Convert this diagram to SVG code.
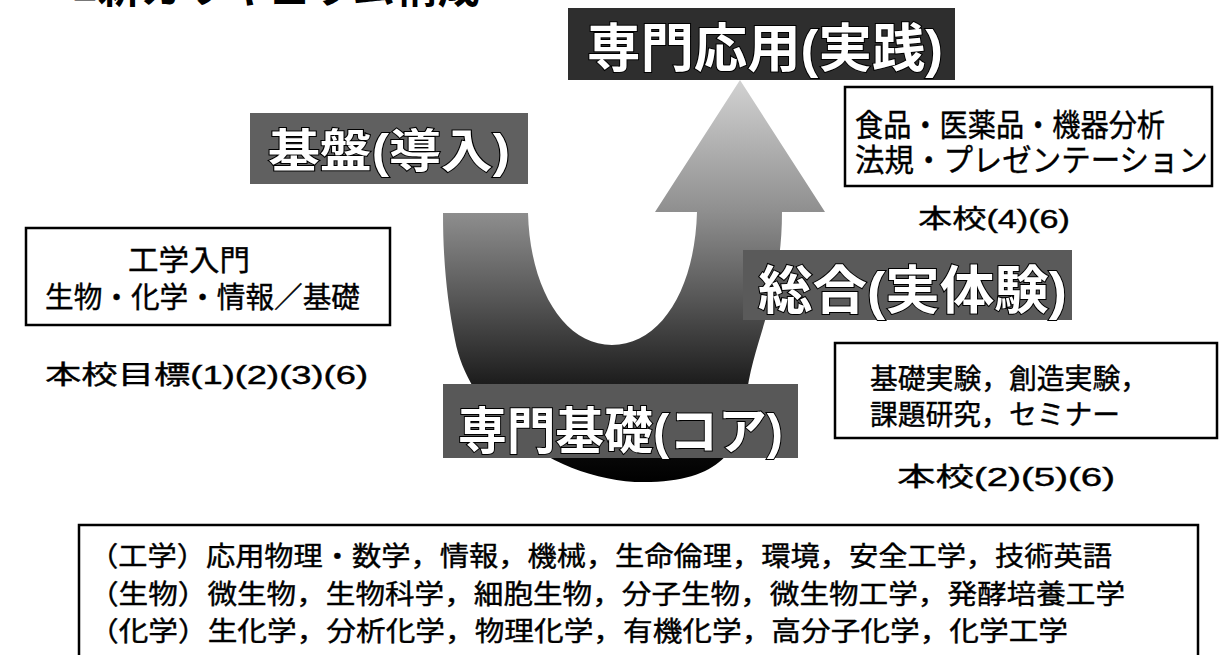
<svg xmlns="http://www.w3.org/2000/svg" width="1231" height="655" viewBox="0 0 1231 655">
<style>
.lbl{font-family:"Liberation Sans","Noto Sans CJK JP",sans-serif;font-weight:bold;fill:#fff;stroke:#000;stroke-width:2;paint-order:stroke;}
.box{fill:#fff;stroke:#000;stroke-width:2.5;}
.t{font-family:"Liberation Sans","Noto Sans CJK JP",sans-serif;fill:#000;}
.b{font-family:"Liberation Sans","Noto Sans CJK JP",sans-serif;fill:#000;stroke:#000;stroke-width:0.4;}
</style>
<defs>
<linearGradient id="ug" gradientUnits="userSpaceOnUse" x1="0" y1="80" x2="0" y2="482">
<stop offset="0" stop-color="#d2d2d2"/>
<stop offset="0.33" stop-color="#8e8e8e"/>
<stop offset="0.55" stop-color="#555"/>
<stop offset="0.75" stop-color="#1e1e1e"/>
<stop offset="1" stop-color="#000"/>
</linearGradient>
</defs>
<rect width="1231" height="655" fill="#fff"/>
<g id="title">
<text class="t" x="72" y="3" font-size="42" font-weight="bold" textLength="408" lengthAdjust="spacingAndGlyphs">■新カリキュラム構成</text>
</g>
<g id="connectors">
<path d="M443,213 L528,213 C530,290 565,345 612,345 C660,345 695,290 697,212 L655,212 L740,80 L825,212 L782,212 C782,300 752,340 746,400 C742,450 720,482 644,482 C560,482 470,420 455,340 C447,300 443,260 443,213 Z" fill="url(#ug)"/>
</g>
<g id="node-applied">
<rect x="568" y="8" width="387" height="72" fill="#2e2e2e"/>
<text class="lbl" x="587" y="67" font-size="52" textLength="356" lengthAdjust="spacingAndGlyphs">専門応用(実践)</text>
</g>
<g id="node-base">
<rect x="250" y="113" width="278" height="71" fill="#606060"/>
<text class="lbl" x="268" y="167" font-size="46" textLength="242" lengthAdjust="spacingAndGlyphs">基盤(導入)</text>
</g>
<g id="node-synth">
<rect x="743" y="250" width="329" height="70" fill="#5a5a5a"/>
<text class="lbl" x="758" y="309" font-size="52" textLength="309" lengthAdjust="spacingAndGlyphs">総合(実体験)</text>
</g>
<g id="node-core">
<rect x="443" y="384" width="355" height="74" fill="#585858"/>
<text class="lbl" x="458" y="449" font-size="50" textLength="325" lengthAdjust="spacingAndGlyphs">専門基礎(コア)</text>
</g>
<g id="node-applied-detail">
<rect class="box" x="845" y="87" width="367" height="99"/>
<text class="b" x="855" y="136" font-size="31" textLength="310" lengthAdjust="spacingAndGlyphs">食品・医薬品・機器分析</text>
<text class="b" x="855" y="171" font-size="31" textLength="353" lengthAdjust="spacingAndGlyphs">法規・プレゼンテーション</text>
<text class="b" x="918" y="228" font-size="26" textLength="152" lengthAdjust="spacingAndGlyphs">本校(4)(6)</text>
</g>
<g id="node-base-detail">
<rect class="box" x="26" y="228" width="364" height="97"/>
<text class="b" x="128" y="271" font-size="29" textLength="122" lengthAdjust="spacingAndGlyphs">工学入門</text>
<text class="b" x="45" y="308" font-size="29" textLength="315" lengthAdjust="spacingAndGlyphs">生物・化学・情報／基礎</text>
<text class="b" x="45" y="384" font-size="26" textLength="323" lengthAdjust="spacingAndGlyphs">本校目標(1)(2)(3)(6)</text>
</g>
<g id="node-synth-detail">
<rect class="box" x="835" y="343" width="382" height="95"/>
<text class="b" x="870" y="389" font-size="28" textLength="278" lengthAdjust="spacingAndGlyphs">基礎実験，創造実験，</text>
<text class="b" x="870" y="425" font-size="28" textLength="250" lengthAdjust="spacingAndGlyphs">課題研究，セミナー</text>
<text class="b" x="897" y="486" font-size="26" textLength="218" lengthAdjust="spacingAndGlyphs">本校(2)(5)(6)</text>
</g>
<g id="node-core-detail">
<rect class="box" x="79" y="525" width="1119" height="145" stroke-width="3"/>
<text class="b" x="89" y="566" font-size="27" textLength="1023" lengthAdjust="spacingAndGlyphs">（工学）応用物理・数学，情報，機械，生命倫理，環境，安全工学，技術英語</text>
<text class="b" x="89" y="604" font-size="27" textLength="1036" lengthAdjust="spacingAndGlyphs">（生物）微生物，生物科学，細胞生物，分子生物，微生物工学，発酵培養工学</text>
<text class="b" x="89" y="641" font-size="27" textLength="979" lengthAdjust="spacingAndGlyphs">（化学）生化学，分析化学，物理化学，有機化学，高分子化学，化学工学</text>
</g>
</svg>
